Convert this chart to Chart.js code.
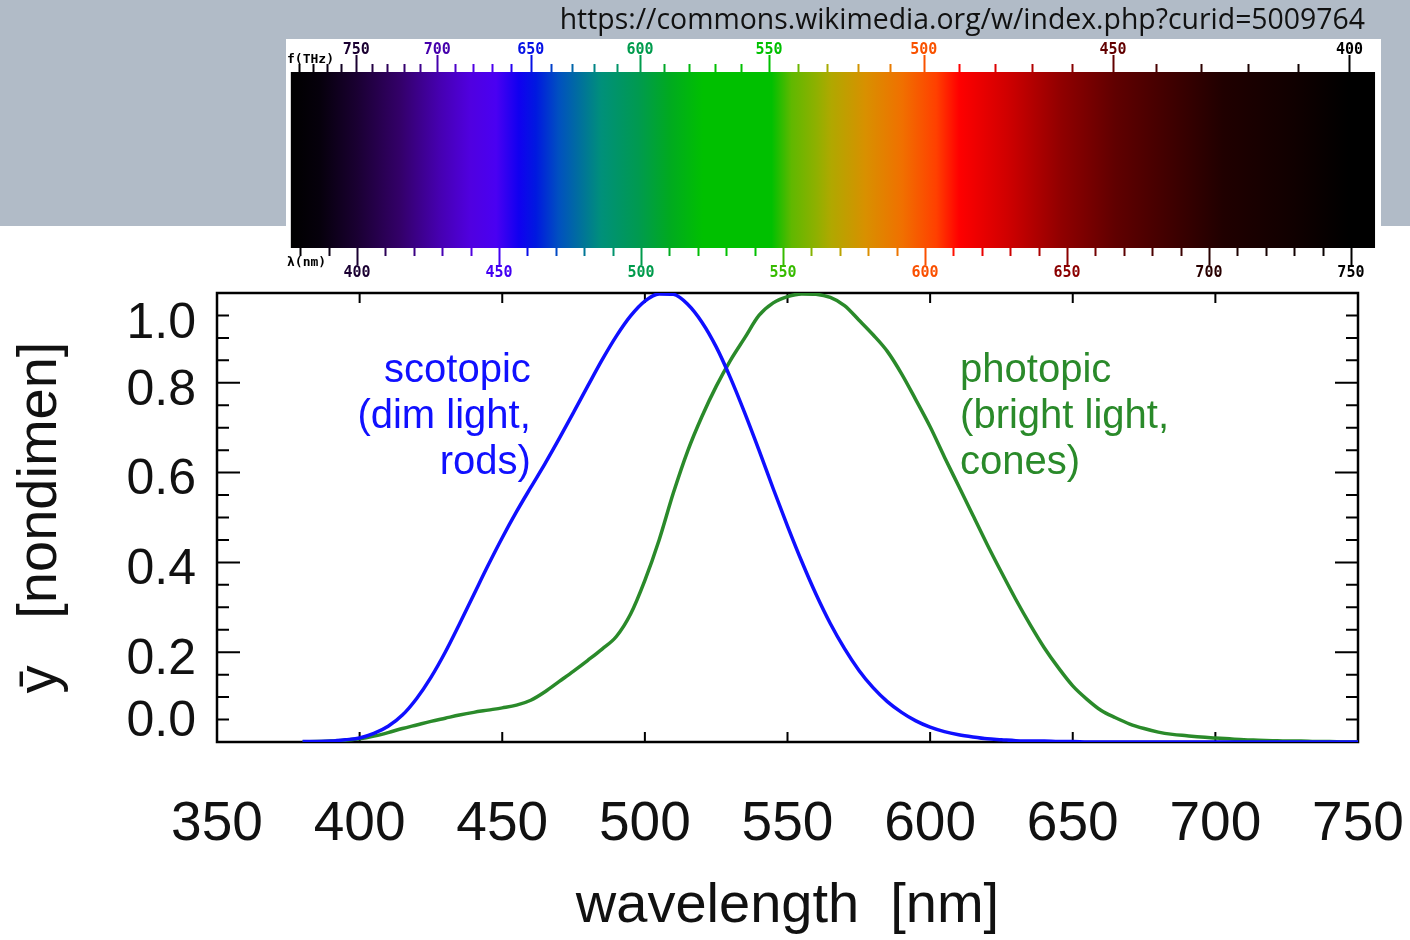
<!DOCTYPE html>
<html>
<head>
<meta charset="utf-8">
<script src="https://cdn.jsdelivr.net/npm/chart.js@4.4.0/dist/chart.umd.min.js"></script>
<style>
  html, body { margin: 0; padding: 0; background: #fff; }
  #wrap { width: 1410px; height: 940px; }
</style>
</head>
<body>
<div id="wrap"><canvas id="lum" width="1410" height="940"></canvas></div>
<script>
// luminosity curves, 5 nm steps
const wavelengths = [380,385,390,395,400,405,410,415,420,425,430,435,440,445,450,455,460,465,470,475,
  480,485,490,495,500,505,510,515,520,525,530,535,540,545,550,555,560,565,570,575,
  580,585,590,595,600,605,610,615,620,625,630,635,640,645,650,655,660,665,670,675,
  680,685,690,695,700,705,710,715,720,725,730,735,740,745,750];

const scotopic = [0.001,0.001,0.002,0.005,0.009,0.019,0.035,0.060,0.097,0.144,0.200,0.263,0.328,0.393,0.455,0.513,0.567,0.620,0.676,0.734,
  0.793,0.851,0.904,0.949,0.982,0.998,0.997,0.975,0.935,0.880,0.811,0.733,0.650,0.564,0.481,0.402,0.329,0.264,0.208,0.160,
  0.121,0.090,0.066,0.047,0.033,0.023,0.016,0.011,0.007,0.005,0.003,0.002,0.002,0.001,0.001,0,0,0,0,0,
  0,0,0,0,0,0,0,0,0,0,0,0,0,0,0];

const photopic = [0.000,0.001,0.002,0.004,0.007,0.013,0.021,0.030,0.038,0.046,0.053,0.060,0.066,0.071,0.076,0.082,0.093,0.112,0.135,0.158,
  0.182,0.207,0.235,0.285,0.360,0.450,0.555,0.648,0.725,0.792,0.850,0.900,0.950,0.978,0.992,0.998,0.997,0.990,0.972,0.940,
  0.907,0.870,0.820,0.762,0.702,0.635,0.570,0.505,0.440,0.378,0.318,0.262,0.210,0.165,0.125,0.095,0.070,0.054,0.040,0.030,
  0.022,0.017,0.014,0.011,0.009,0.007,0.005,0.004,0.003,0.002,0.002,0.001,0.001,0.000,0.000];

const xTicks = [350,400,450,500,550,600,650,700,750];
const yMajorTicks = [0, 0.2, 0.4, 0.6, 0.8, 1.0];
const yMinorTicks = [0.05,0.1,0.15,0.25,0.3,0.35,0.45,0.5,0.55,0.65,0.7,0.75,0.85,0.9,0.95];
const yLabels = ['0.0','0.2','0.4','0.6','0.8','1.0'];

// spectrum strip on top
const nmTicks = [400,450,500,550,600,650,700,750];
const thzTicks = [750,700,650,600,550,500,450,400];
const spectrumRange = [376.7, 758.5];
const spectrumNm = [376.7,387,400,415,429,440,449,457,463,471,486,499,510,522,546,553,562,567,579,592,
  604,612,629,648,667,686,705,730,749,758.5];
const spectrumColors = ['#000000','#06000c','#1a0032','#330068','#4600b0','#5000e0','#4a00f2','#1000f0','#0018e0','#0050c0',
  '#00907a','#009a50','#00aa20','#00c000','#00c000','#60b800','#90b000','#b0a800','#d89000','#f07000',
  '#ff4000','#ff0000','#d00000','#900000','#600000','#400000','#200000','#100000','#000000','#000000'];

const sourceUrl = 'https://commons.wikimedia.org/w/index.php?curid=5009764';
const scotopicNote = ['scotopic', '(dim light,', 'rods)'];
const photopicNote = ['photopic', '(bright light,', 'cones)'];

const SANS = '"Liberation Sans", Arial, Helvetica, sans-serif';
const C_NM_THZ = 299792.458;

function hexToRgb(h) {
  const n = parseInt(h.slice(1), 16);
  return [(n >> 16) & 255, (n >> 8) & 255, n & 255];
}
function colorAt(nm) {
  if (nm <= spectrumNm[0]) return spectrumColors[0];
  for (let i = 1; i < spectrumNm.length; i++) {
    if (nm <= spectrumNm[i]) {
      const t = (nm - spectrumNm[i-1]) / (spectrumNm[i] - spectrumNm[i-1]);
      const a = hexToRgb(spectrumColors[i-1]), b = hexToRgb(spectrumColors[i]);
      return 'rgb(' + a.map((v, k) => Math.round(v + (b[k] - v) * t)).join(',') + ')';
    }
  }
  return spectrumColors[spectrumColors.length - 1];
}

const header = {
  id: 'header',
  beforeDraw(chart) {
    const ctx = chart.ctx, sx = chart.scales.spec;
    ctx.save();
    ctx.fillStyle = '#fff';
    ctx.fillRect(0, 0, chart.width, chart.height);
    ctx.fillStyle = '#b1bbc7';
    ctx.fillRect(0, 0, chart.width, 226);
    ctx.fillStyle = '#fff';
    ctx.fillRect(286, 39, 1095, 250);

    ctx.fillStyle = '#111';
    ctx.textAlign = 'right';
    ctx.textBaseline = 'middle';
    ctx.font = '26px "Open Sans", "Noto Sans", sans-serif';
    const w = ctx.measureText(sourceUrl).width;
    ctx.font = (26 * 805 / w).toFixed(1) + 'px "Open Sans", "Noto Sans", sans-serif';
    ctx.fillText(sourceUrl, 1365, 21);

    const x0 = sx.getPixelForValue(spectrumRange[0]);
    const x1 = sx.getPixelForValue(spectrumRange[1]);
    const g = ctx.createLinearGradient(x0, 0, x1, 0);
    spectrumNm.forEach((nm, i) => {
      const p = (sx.getPixelForValue(nm) - x0) / (x1 - x0);
      g.addColorStop(Math.min(1, Math.max(0, p)), spectrumColors[i]);
    });
    ctx.fillStyle = g;
    ctx.fillRect(x0, 72, x1 - x0, 176);

    ctx.lineWidth = 2;
    for (let nm = 380; nm <= 750; nm += 10) {
      const px = Math.round(sx.getPixelForValue(nm)) + 0.5;
      ctx.strokeStyle = colorAt(nm);
      ctx.beginPath();
      ctx.moveTo(px, 248);
      ctx.lineTo(px, 248 + (nm % 50 === 0 ? 17 : 8));
      ctx.stroke();
    }
    for (let f = 400; f <= 790; f += 10) {
      const nm = C_NM_THZ / f;
      const px = Math.round(sx.getPixelForValue(nm)) + 0.5;
      ctx.strokeStyle = colorAt(nm);
      ctx.beginPath();
      ctx.moveTo(px, 72);
      ctx.lineTo(px, 72 - (f % 50 === 0 ? 17 : 8));
      ctx.stroke();
    }

    ctx.font = 'bold 15px "DejaVu Sans Mono", monospace';
    ctx.textAlign = 'center';
    nmTicks.forEach(nm => {
      ctx.fillStyle = colorAt(nm);
      ctx.fillText(String(nm), sx.getPixelForValue(nm), 273);
    });
    thzTicks.forEach(f => {
      const nm = C_NM_THZ / f;
      ctx.fillStyle = colorAt(nm);
      ctx.fillText(String(f), sx.getPixelForValue(nm), 50);
    });
    ctx.fillStyle = '#000';
    ctx.textAlign = 'left';
    ctx.font = 'bold 13px "DejaVu Sans Mono", monospace';
    ctx.fillText('f(THz)', 287, 60);
    ctx.fillText('λ(nm)', 287, 263);
    ctx.restore();
  }
};

const frame = {
  id: 'frame',
  beforeDatasetsDraw(chart) {
    const ctx = chart.ctx, {left, right, top, bottom} = chart.chartArea;
    const sx = chart.scales.x, sy = chart.scales.y;
    ctx.save();
    ctx.strokeStyle = '#000';
    ctx.lineWidth = 2.5;
    ctx.strokeRect(left, top, right - left, bottom - top);
    ctx.lineWidth = 2;
    const hTick = (v, len) => {
      const py = sy.getPixelForValue(v);
      ctx.beginPath();
      ctx.moveTo(left, py); ctx.lineTo(left + len, py);
      ctx.moveTo(right, py); ctx.lineTo(right - len, py);
      ctx.stroke();
    };
    yMajorTicks.forEach(v => hTick(v, 23));
    yMinorTicks.forEach(v => hTick(v, 12));
    xTicks.forEach(v => {
      const px = sx.getPixelForValue(v);
      ctx.beginPath();
      ctx.moveTo(px, bottom); ctx.lineTo(px, bottom - 10);
      ctx.moveTo(px, top); ctx.lineTo(px, top + 10);
      ctx.stroke();
    });
    ctx.restore();
  },
  afterDatasetsDraw(chart) {
    const ctx = chart.ctx, {top, bottom} = chart.chartArea;
    const sx = chart.scales.x, sy = chart.scales.y;
    ctx.save();
    ctx.textBaseline = 'middle';
    ctx.font = '40px ' + SANS;
    ctx.fillStyle = '#1010ff';
    ctx.textAlign = 'right';
    scotopicNote.forEach((t, i) => ctx.fillText(t, sx.getPixelForValue(460), sy.getPixelForValue(0.826) + i * 46));
    ctx.fillStyle = '#2a8a2a';
    ctx.textAlign = 'left';
    photopicNote.forEach((t, i) => ctx.fillText(t, sx.getPixelForValue(610.5), sy.getPixelForValue(0.826) + i * 46));

    ctx.fillStyle = '#111';
    ctx.textAlign = 'right';
    ctx.font = '50px ' + SANS;
    yMajorTicks.forEach((v, i) => {
      const py = Math.min(Math.max(sy.getPixelForValue(v) + 8, top + 31), bottom - 20);
      ctx.fillText(yLabels[i], 196, py);
    });
    ctx.restore();
  }
};

new Chart(document.getElementById('lum'), {
  type: 'line',
  data: {
    datasets: [
      {
        label: 'scotopic',
        data: wavelengths.map((w, i) => ({x: w, y: scotopic[i]})),
        borderColor: '#0f0fff',
        borderWidth: 3.5,
        pointRadius: 0,
        cubicInterpolationMode: 'monotone'
      },
      {
        label: 'photopic',
        data: wavelengths.map((w, i) => ({x: w, y: photopic[i]})),
        borderColor: '#2a8a2a',
        borderWidth: 3.5,
        pointRadius: 0,
        cubicInterpolationMode: 'monotone'
      }
    ]
  },
  options: {
    responsive: false,
    animation: false,
    devicePixelRatio: 1,
    layout: { padding: { top: 293, right: 52, left: 0, bottom: 0 } },
    plugins: { legend: { display: false }, tooltip: { enabled: false } },
    scales: {
      x: {
        type: 'linear', min: 350, max: 750,
        grid: { display: false, drawTicks: true, tickLength: 47 },
        border: { display: false },
        ticks: { stepSize: 50, autoSkip: false, maxRotation: 0, padding: 3, color: '#111',
                 font: { family: SANS, size: 55 } },
        title: { display: true, text: 'wavelength  [nm]', color: '#111',
                 font: { family: SANS, size: 56 }, padding: { top: 0, bottom: 0 } },
        afterFit(s) { s.height = 198; }
      },
      y: {
        min: 0, max: 1,
        grid: { display: false, drawTicks: false },
        border: { display: false },
        ticks: { display: false },
        title: { display: true, text: 'ȳ   [nondimen]', color: '#111',
                 font: { family: SANS, size: 56 }, padding: { top: 7, bottom: 0 } },
        afterFit(s) { s.width = 217; }
      },
      spec: { type: 'linear', axis: 'x', position: 'bottom', display: false, min: 350.7, max: 752.5 }
    }
  },
  plugins: [header, frame]
});
</script>
</body>
</html>
